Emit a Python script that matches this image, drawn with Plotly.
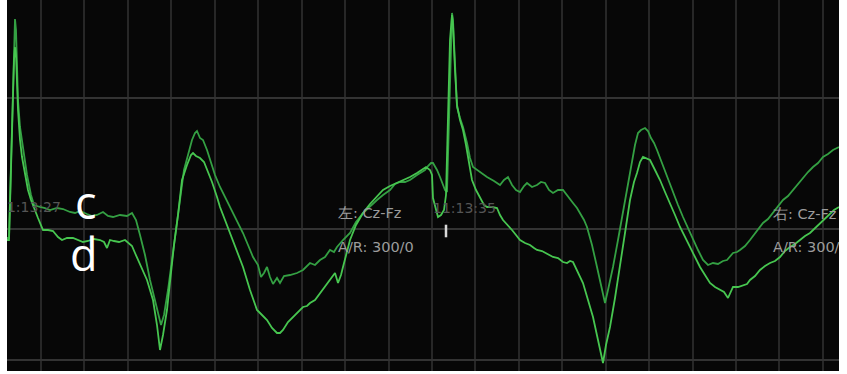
import plotly.graph_objects as go

# EEG-style traces (time sample index, amplitude in display units; EEG convention: negative-up -> reversed axis)
t_c = [7, 9, 10, 12, 14, 15, 16, 17, 18, 20, 23, 27, 31, 34, 40, 45, 50, 57, 63, 70, 75, 80, 87, 92, 97, 103, 108, 113, 120, 127, 132, 136, 140, 145, 150, 155, 158, 161, 164, 168, 172, 177, 180, 184, 188, 192, 195, 197, 200, 203, 207, 210, 215, 220, 225, 230, 236, 243, 248, 253, 258, 261, 264, 267, 270, 273, 277, 280, 284, 290, 297, 303, 310, 315, 320, 325, 330, 334, 337, 343, 350, 356, 363, 370, 377, 383, 390, 395, 400, 405, 410, 417, 422, 425, 428, 431, 433, 437, 440, 445, 447, 449, 451, 452, 453, 455, 457, 460, 463, 467, 470, 473, 480, 487, 494, 500, 504, 508, 512, 516, 520, 524, 527, 532, 537, 541, 545, 549, 553, 558, 563, 568, 573, 577, 580, 584, 587, 592, 597, 601, 605, 608, 613, 618, 623, 628, 632, 635, 638, 641, 645, 648, 651, 654, 657, 660, 663, 668, 673, 678, 683, 688, 693, 698, 703, 708, 713, 718, 723, 727, 733, 737, 740, 745, 750, 756, 763, 768, 773, 778, 783, 788, 793, 798, 803, 808, 813, 818, 823, 828, 833, 839]
v_c = [238, 238, 200, 120, 40, 19, 30, 60, 100, 127, 150, 175, 195, 205, 207, 208, 210, 208, 209, 212, 213, 211, 214, 216, 215, 212, 216, 217, 215, 216, 213, 220, 235, 255, 280, 300, 315, 325, 315, 290, 260, 225, 200, 170, 155, 140, 133, 131, 138, 140, 150, 160, 175, 187, 197, 207, 220, 233, 245, 257, 265, 277, 273, 267, 277, 284, 278, 283, 276, 275, 273, 270, 263, 265, 260, 257, 250, 252, 247, 240, 233, 222, 213, 206, 200, 195, 190, 184, 182, 182, 180, 175, 172, 170, 166, 163, 163, 170, 177, 190, 192, 120, 40, 13, 20, 67, 107, 118, 127, 143, 158, 167, 172, 177, 181, 185, 180, 177, 185, 190, 192, 186, 183, 187, 185, 182, 183, 190, 193, 190, 190, 196, 203, 208, 213, 220, 227, 245, 267, 285, 303, 290, 267, 240, 213, 185, 165, 145, 133, 130, 128, 131, 138, 143, 150, 158, 167, 180, 193, 205, 217, 228, 240, 250, 260, 265, 263, 264, 261, 260, 253, 252, 250, 246, 240, 232, 223, 219, 213, 207, 200, 196, 190, 184, 177, 172, 167, 163, 157, 154, 150, 147]

t_d = [7, 9, 10, 12, 14, 15, 16, 18, 20, 22, 25, 28, 31, 34, 38, 43, 48, 53, 58, 62, 67, 73, 78, 83, 88, 94, 100, 104, 107, 110, 114, 119, 125, 129, 132, 135, 140, 147, 153, 157, 160, 163, 167, 170, 174, 178, 182, 187, 191, 193, 196, 200, 204, 208, 212, 217, 220, 225, 230, 236, 243, 250, 257, 262, 267, 272, 277, 280, 283, 288, 293, 298, 303, 307, 310, 315, 320, 325, 330, 335, 338, 341, 343, 347, 350, 356, 363, 370, 377, 383, 390, 397, 403, 410, 417, 422, 426, 430, 432, 433, 436, 438, 441, 444, 446, 448, 450, 452, 453, 455, 457, 460, 463, 466, 469, 472, 476, 480, 484, 487, 492, 497, 500, 503, 508, 512, 516, 520, 525, 530, 534, 537, 542, 547, 553, 558, 563, 567, 570, 573, 576, 580, 583, 588, 593, 598, 603, 606, 610, 615, 620, 625, 630, 634, 637, 640, 643, 646, 650, 655, 660, 665, 670, 675, 680, 685, 690, 695, 700, 705, 710, 715, 720, 724, 728, 731, 733, 738, 743, 747, 750, 755, 760, 765, 770, 775, 780, 785, 790, 795, 800, 805, 810, 815, 820, 825, 830, 834, 839]
v_d = [240, 240, 205, 130, 60, 47, 55, 110, 140, 157, 175, 190, 200, 207, 218, 230, 230, 231, 237, 240, 238, 238, 240, 242, 241, 239, 240, 242, 248, 240, 241, 242, 240, 244, 246, 253, 265, 280, 300, 325, 350, 335, 310, 280, 245, 215, 180, 165, 155, 153, 156, 158, 162, 172, 182, 197, 207, 220, 233, 250, 267, 290, 310, 315, 320, 328, 333, 333, 330, 322, 317, 312, 307, 306, 303, 300, 293, 287, 280, 273, 283, 275, 267, 253, 240, 225, 213, 204, 197, 190, 186, 183, 180, 177, 173, 170, 167, 170, 175, 198, 210, 217, 215, 210, 195, 120, 40, 15, 25, 70, 105, 120, 130, 145, 165, 180, 190, 198, 205, 207, 207, 208, 215, 220, 225, 230, 235, 240, 243, 245, 248, 250, 251, 254, 257, 258, 262, 263, 261, 262, 268, 276, 283, 300, 317, 340, 363, 345, 327, 298, 267, 233, 200, 182, 173, 162, 157, 158, 160, 170, 180, 192, 203, 215, 227, 237, 247, 257, 267, 275, 283, 287, 290, 292, 298, 292, 287, 287, 285, 284, 280, 276, 270, 266, 263, 261, 257, 251, 247, 244, 240, 236, 233, 228, 223, 218, 213, 210, 207]

cursor_t = 432
marker_t = [446]
marker_v = [231]

time_labels = ["11:13:27", "11:13:35"]
time_label_t = [-2, 433]
time_label_v = [208, 209]

chan_labels = ["左: Cz-Fz", "A/R: 300/0", "右: Cz-Fz", "A/R: 300/0"]
chan_label_t = [338, 338, 773, 773]
chan_label_v = [214, 248, 215, 248]

fig = go.Figure()

fig.add_trace(go.Scatter(x=t_c, y=v_c, mode="lines",
                         line=dict(color="#34a043", width=1.8), hoverinfo="skip"))
fig.add_trace(go.Scatter(x=t_d, y=v_d, mode="lines",
                         line=dict(color="#47c650", width=1.8), hoverinfo="skip"))

fig.add_trace(go.Scatter(x=time_label_t, y=time_label_v, mode="text", text=time_labels,
                         textposition="middle right", cliponaxis=True,
                         textfont=dict(family="DejaVu Sans", size=14, color="#555555"),
                         hoverinfo="skip"))
fig.add_trace(go.Scatter(x=chan_label_t, y=chan_label_v, mode="text", text=chan_labels,
                         textposition="middle right", cliponaxis=True,
                         textfont=dict(family="DejaVu Sans", size=14.5, color="#9c9c9c"),
                         hoverinfo="skip"))
fig.add_trace(go.Scatter(x=marker_t, y=marker_v, mode="markers",
                         marker=dict(symbol="line-ns", size=9, line=dict(color="#d8d8d8", width=2.5)),
                         hoverinfo="skip"))

fig.add_shape(type="line", xref="x", yref="paper", x0=cursor_t, x1=cursor_t, y0=0, y1=1,
              line=dict(color="#7a7a7a", width=2), layer="below")

fig.add_annotation(x=86, y=201, xref="x", yref="y", text="c", showarrow=False,
                   font=dict(family="Open Sans", size=45, color="white"))
fig.add_annotation(x=84, y=253, xref="x", yref="y", text="d", showarrow=False,
                   font=dict(family="Open Sans", size=45, color="white"))

fig.update_layout(
    width=847, height=374,
    margin=dict(l=7, r=8, t=0, b=3),
    paper_bgcolor="white",
    plot_bgcolor="#070707",
    showlegend=False,
)
fig.update_xaxes(range=[7, 839], tick0=41, dtick=43.44, showgrid=True,
                 gridcolor="#272727", gridwidth=1.5, showticklabels=False,
                 zeroline=False, ticks="", showline=False)
fig.update_yaxes(range=[371, 0], tick0=98, dtick=131, showgrid=True,
                 gridcolor="#333333", gridwidth=1.5, showticklabels=False,
                 zeroline=False, ticks="", showline=False)

fig.write_html("out.html", config={"displayModeBar": False},
               post_script="document.body.style.margin='0';document.body.style.overflow='hidden';")
